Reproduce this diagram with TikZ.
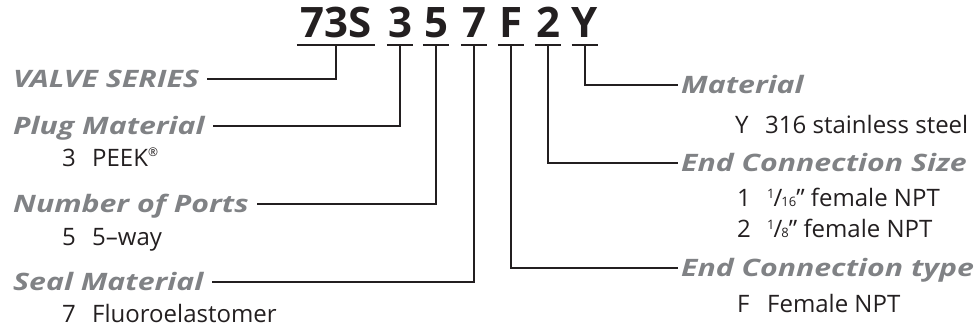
\documentclass[tikz,border=0pt]{standalone}
\usepackage{fontspec}
\setmainfont{Open Sans}
\newfontfamily\lblfont{Open Sans}[FakeStretch=1.26]
\usetikzlibrary{positioning, calc}
\definecolor{ink}{RGB}{35,31,32}
\definecolor{cLabel}{RGB}{128,130,133}
\newcommand{\opt}[2]{\makebox[30pt][l]{#1}#2}
\newcommand{\frc}[2]{\raisebox{0.55ex}{\fontsize{13}{13}\selectfont #1}\kern-1pt/\kern-1pt{\fontsize{13}{13}\selectfont #2}}
\newcommand{\regmark}{\raisebox{0.75ex}{\fontsize{12}{12}\selectfont ®}}
\tikzset{
    codechar/.style={
        font=\fontsize{42}{42}\selectfont\bfseries, text=ink,
        inner sep=0pt, anchor=base, minimum width=26pt,
    },
    lbl/.style={
        font=\lblfont\fontsize{24}{24}\selectfont\bfseries\itshape, text=cLabel,
        inner xsep=0pt, inner ysep=0pt, anchor=base west,
        text height=16pt, text depth=0pt,
    },
    desc/.style={
        font=\fontsize{24}{24}\selectfont, text=ink,
        inner sep=0pt, anchor=base west,
    },
    rule/.style={line width=1.6pt, draw=ink},
    leader/.style={line width=1.3pt, draw=ink},
    leaderL/.style={leader, shorten >=8pt},
    leaderR/.style={leader, shorten >=3pt},
}

\begin{document}
\begin{tikzpicture}[x=1pt, y=-1pt]
\useasboundingbox (0,0) rectangle (974,330);

% ============================================================
%  Part number, one node per field
% ============================================================
\node[codechar, minimum width=78pt] (c73) at (336,37) {73S};
\node[codechar] (c3) at (400,37) {3};
\node[codechar] (c5) at (436,37) {5};
\node[codechar] (c7) at (474,37) {7};
\node[codechar] (cF) at (511,37) {F};
\node[codechar] (c2) at (548,37) {2};
\node[codechar] (cY) at (585,37) {Y};

% underline each field and keep its midpoint for the leaders
\foreach \c in {73,3,5,7,F,2,Y} {
    \draw[rule] ([yshift=-8pt]c\c.base west) -- ([yshift=-8pt]c\c.base east);
    \coordinate (u\c) at ([yshift=-8pt]c\c.base);
}

% ============================================================
%  Left column
% ============================================================
\node[lbl] (valve) at (13,87) {VALVE SERIES};
\node[lbl] (plug) at (13,134) {Plug Material};
\node[desc] (peek) at (62,166) {\opt{3}{PEEK\regmark}};
\node[lbl] (ports) at (13,212) {Number of Ports};
\node[desc] (way) at (62,245) {\opt{5}{5–way}};
\node[lbl] (seal) at (13,290) {Seal Material};
\node[desc] (fkm) at (62,322) {\opt{7}{Fluoroelastomer}};

% ============================================================
%  Right column
% ============================================================
\node[lbl] (mat) at (681,93) {Material};
\node[desc] (ss) at (735,133) {\opt{Y}{316 stainless steel}};
\node[lbl] (size) at (681,171) {End Connection Size};
\node[desc] (sz1) at (737,206) {\opt{1}{\frc{1}{16}” female NPT}};
\node[desc] (sz2) at (737,237) {\opt{2}{\frc{1}{8}” female NPT}};
\node[lbl] (type) at (681,276) {End Connection type};
\node[desc] (fnpt) at (737,312) {\opt{F}{Female NPT}};

% leaders: down from the underline, then across to the label
\draw[leaderL] (u73) |- (valve.east);
\draw[leaderL] (u3)  |- (plug.east);
\draw[leaderL] (u5)  |- (ports.east);
\draw[leaderL] (u7)  |- (seal.east);
\draw[leaderR] (uY)  |- (mat.west);
\draw[leaderR] (u2)  |- (size.west);
\draw[leaderR] (uF)  |- (type.west);

\end{tikzpicture}
\end{document}
